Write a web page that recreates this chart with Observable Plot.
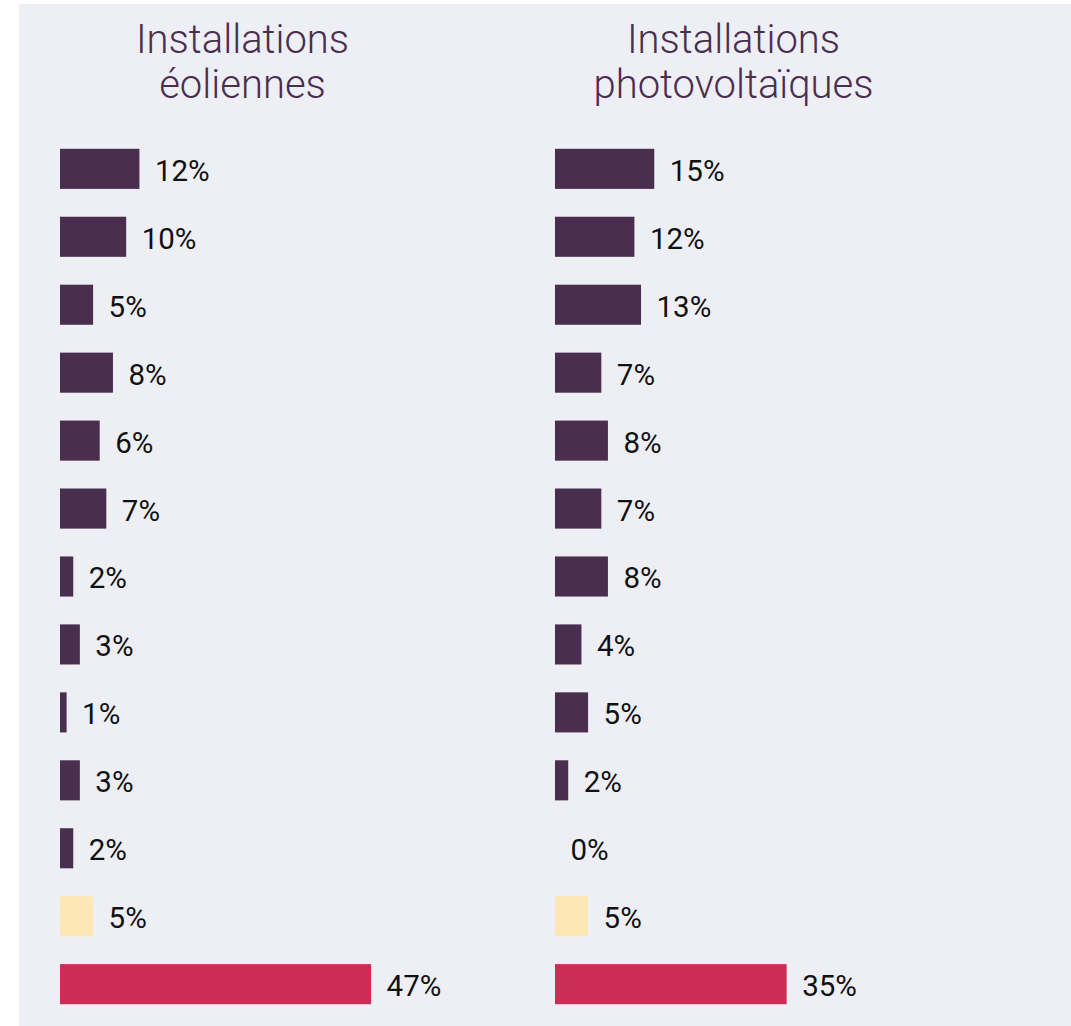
<!DOCTYPE html>
<html>
<head>
<meta charset="utf-8">
<script src="https://cdn.jsdelivr.net/npm/d3@7"></script>
<script src="https://cdn.jsdelivr.net/npm/@observablehq/plot@0.6"></script>
<style>
  html, body { margin: 0; padding: 0; background: #ffffff; }
  #wrap { position: relative; width: 1071px; height: 1026px; overflow: hidden; }
  #bg { position: absolute; left: 19px; top: 4px; right: 0; bottom: 0; background: #eeeff5; }
  #chart { position: absolute; left: 0; top: 0; }
</style>
</head>
<body>
<div id="wrap"><div id="bg"></div><div id="chart"></div></div>
<script>
const panels = ["eolien", "pv"];
const panelTitles = ["Installations\néoliennes", "Installations\nphotovoltaïques"];
const categories = ["c01","c02","c03","c04","c05","c06","c07","c08","c09","c10","c11","c12","c13"];
const groups = ["g","g","g","g","g","g","g","g","g","g","g","neutre","negatif"];
const eolienValues = [12, 10, 5, 8, 6, 7, 2, 3, 1, 3, 2, 5, 47];
const pvValues = [15, 12, 13, 7, 8, 7, 8, 4, 5, 2, 0, 5, 35];
const groupDomain = ["g", "neutre", "negatif"];
const groupColors = ["#4a2e50", "#fde8b5", "#cb2d55"];

const data = [];
categories.forEach((c, i) => {
  data.push({panel: "eolien", cat: c, group: groups[i], value: eolienValues[i]});
  data.push({panel: "pv", cat: c, group: groups[i], value: pvValues[i]});
});
const titles = panels.map((p, i) => ({panel: p, title: panelTitles[i]}));

const chart = Plot.plot({
  width: 1071,
  height: 1026,
  marginLeft: 60,
  marginRight: 152,
  marginTop: 142,
  marginBottom: 15,
  style: {background: "transparent", fontFamily: "Roboto, 'Noto Sans', sans-serif"},
  fx: {domain: panels, paddingInner: 0.2646, paddingOuter: 0, round: false, axis: null},
  x: {domain: [0, 55], axis: null},
  y: {domain: categories, paddingInner: 0.41, paddingOuter: 0.1, round: false, axis: null},
  color: {domain: groupDomain, range: groupColors},
  marks: [
    Plot.barX(data, {fx: "panel", y: "cat", x: "value", fill: "group"}),
    Plot.text(data, {fx: "panel", y: "cat", x: "value", text: d => d.value + "%", dx: 15, dy: 2, textAnchor: "start", fontSize: 29.5, fill: "#111111"}),
    Plot.text(titles.filter(d => d.panel === "eolien"), {fx: "panel", text: "title", frameAnchor: "top", lineAnchor: "bottom", dy: -45, fontSize: 40, fontWeight: 300, lineHeight: 1.12, fill: "#4a2e50"}),
    Plot.text(titles.filter(d => d.panel === "pv"), {fx: "panel", text: "title", frameAnchor: "top", lineAnchor: "bottom", dx: -4, dy: -45, fontSize: 40, fontWeight: 300, lineHeight: 1.12, fill: "#4a2e50"})
  ]
});
document.getElementById("chart").appendChild(chart);
</script>
</body>
</html>
